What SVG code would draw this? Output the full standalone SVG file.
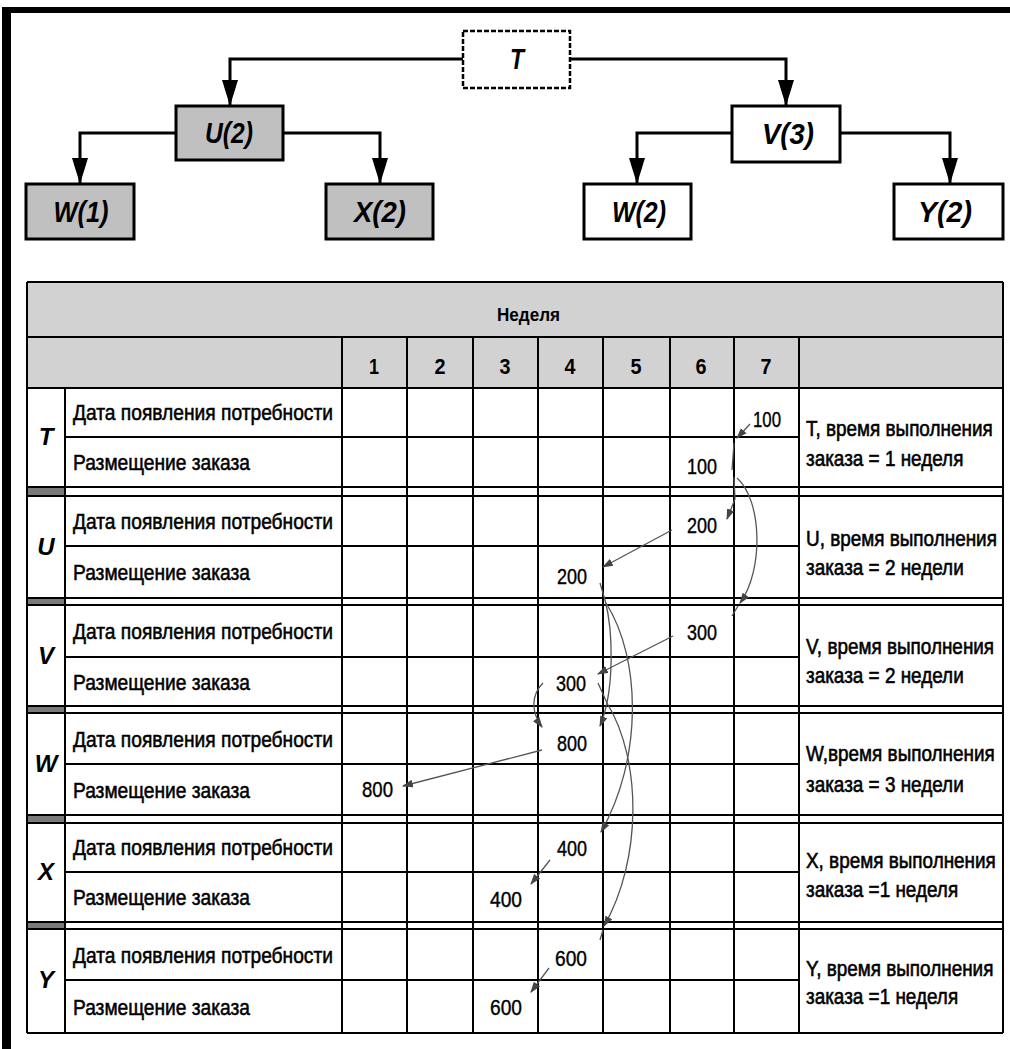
<svg xmlns="http://www.w3.org/2000/svg" width="1010" height="1049" viewBox="0 0 1010 1049">
<style>
.tl{stroke:#000;stroke-width:3;fill:none}
.bx{stroke:#000;stroke-width:3}
.gr{fill:#c0c0c0}
.wh{fill:#fff}
.nt{font-family:"Liberation Sans",Arial,sans-serif;font-weight:bold;font-style:italic;font-size:30px;text-anchor:middle;fill:#000}
.lt{font-family:"Liberation Sans",Arial,sans-serif;font-weight:bold;font-style:italic;font-size:24px;text-anchor:middle;fill:#000}
.lb{font-family:"Liberation Sans Narrow","Liberation Sans",Arial,sans-serif;font-size:22px;fill:#000;stroke:#000;stroke-width:0.55}
.nt2{font-family:"Liberation Sans Narrow","Liberation Sans",Arial,sans-serif;font-size:22px;fill:#000;stroke:#000;stroke-width:0.6}
.nm{font-family:"Liberation Sans Narrow","Liberation Sans",Arial,sans-serif;font-size:22px;fill:#000;stroke:#000;stroke-width:0.4}
.nb{font-family:"Liberation Sans Narrow","Liberation Sans",Arial,sans-serif;font-size:22px;font-weight:bold;fill:#000;text-anchor:middle}
.hd{font-family:"Liberation Sans Narrow","Liberation Sans",Arial,sans-serif;font-size:19px;font-weight:bold;fill:#000}
.gl{stroke:#000;stroke-width:2;fill:none}
.ar{stroke:#555;stroke-width:1.3;fill:none;marker-end:url(#ah)}
.ta{stroke:#555;stroke-width:1.3;fill:none}
</style>
<defs>
<marker id="big" viewBox="0 0 26 16" refX="26" refY="8" markerWidth="26" markerHeight="16" markerUnits="userSpaceOnUse" orient="auto"><path d="M0,0 L26,8 L0,16 z" fill="#000"/></marker>
<marker id="ah" viewBox="0 0 10 7" refX="9" refY="3.5" markerWidth="11" markerHeight="8" markerUnits="userSpaceOnUse" orient="auto"><path d="M0,0 L10,3.5 L0,7 z" fill="#444"/></marker>
</defs>
<rect width="1010" height="1049" fill="#fff"/>
<!-- outer frame -->
<rect x="2" y="7" width="1008" height="6" fill="#000"/>
<rect x="2" y="7" width="9" height="1042" fill="#000"/>

<!-- tree connectors -->
<g id="tree-connectors">
<path class="tl" d="M463,59 H230 V106" marker-end="url(#big)"/>
<path class="tl" d="M570,59 H786 V106" marker-end="url(#big)"/>
<path class="tl" d="M176,133 H80 V184" marker-end="url(#big)"/>
<path class="tl" d="M283,133 H380 V184" marker-end="url(#big)"/>
<path class="tl" d="M732,133 H637 V184" marker-end="url(#big)"/>
<path class="tl" d="M840,133 H950 V184" marker-end="url(#big)"/>
</g>

<g id="node-T">
<rect x="463" y="31" width="107" height="57" fill="#fff" stroke="#000" stroke-width="2.5" stroke-dasharray="5,2"/>
<text class="nt" x="517" y="69" textLength="14" lengthAdjust="spacingAndGlyphs">T</text>
</g>
<g id="node-U">
<rect class="bx gr" x="176" y="106" width="107" height="54"/>
<text class="nt" x="229" y="143" textLength="48" lengthAdjust="spacingAndGlyphs">U(2)</text>
</g>
<g id="node-V">
<rect class="bx wh" x="732" y="106" width="108" height="56"/>
<text class="nt" x="788" y="144" textLength="52" lengthAdjust="spacingAndGlyphs">V(3)</text>
</g>
<g id="node-W1">
<rect class="bx gr" x="26" y="184" width="108" height="55"/>
<text class="nt" x="81" y="222" textLength="55" lengthAdjust="spacingAndGlyphs">W(1)</text>
</g>
<g id="node-X2">
<rect class="bx gr" x="326" y="184" width="107" height="55"/>
<text class="nt" x="380" y="222" textLength="52" lengthAdjust="spacingAndGlyphs">X(2)</text>
</g>
<g id="node-W2">
<rect class="bx wh" x="584" y="184" width="107" height="55"/>
<text class="nt" x="639" y="222" textLength="54" lengthAdjust="spacingAndGlyphs">W(2)</text>
</g>
<g id="node-Y2">
<rect class="bx wh" x="894" y="184" width="109" height="55"/>
<text class="nt" x="945" y="222" textLength="54" lengthAdjust="spacingAndGlyphs">Y(2)</text>
</g>

<!-- table -->
<g id="table">
<rect x="27" y="282" width="976" height="106" fill="#d2d2d2"/>
<!-- gaps between groups -->
<rect x="27" y="488" width="38" height="7" fill="#7a7a7a"/>
<rect x="27" y="599" width="38" height="5" fill="#7a7a7a"/>
<rect x="27" y="707" width="38" height="5" fill="#7a7a7a"/>
<rect x="27" y="816" width="38" height="6" fill="#7a7a7a"/>
<rect x="27" y="923" width="38" height="5" fill="#7a7a7a"/>
<!-- horizontal lines -->
<path class="gl" d="M27,282 H1003 M27,337 H1003 M27,388 H1003
M65,437 H799 M27,487 H1003 M27,496 H1003
M65,546 H799 M27,598 H1003 M27,605 H1003
M65,657 H799 M27,706 H1003 M27,713 H1003
M65,764 H799 M27,815 H1003 M27,823 H1003
M65,872 H799 M27,922 H1003 M27,929 H1003
M65,980 H799 M27,1033 H1003"/>
<!-- vertical lines -->
<path class="gl" d="M27,282 V1033 M1003,282 V1033 M65,388 V1033
M342,337 V1033 M407,337 V1033 M473,337 V1033 M538,337 V1033
M603,337 V1033 M670,337 V1033 M734,337 V1033 M799,337 V1033"/>
<text class="hd" x="497" y="321" textLength="63" lengthAdjust="spacingAndGlyphs">Неделя</text>
<text class="nb" x="374" y="374" textLength="10" lengthAdjust="spacingAndGlyphs">1</text>
<text class="nb" x="440" y="374" textLength="11" lengthAdjust="spacingAndGlyphs">2</text>
<text class="nb" x="505" y="374" textLength="11" lengthAdjust="spacingAndGlyphs">3</text>
<text class="nb" x="570" y="374" textLength="11" lengthAdjust="spacingAndGlyphs">4</text>
<text class="nb" x="636" y="374" textLength="11" lengthAdjust="spacingAndGlyphs">5</text>
<text class="nb" x="701" y="374" textLength="11" lengthAdjust="spacingAndGlyphs">6</text>
<text class="nb" x="766" y="374" textLength="11" lengthAdjust="spacingAndGlyphs">7</text>
</g>

<g id="row-T">
<text class="lt" x="46" y="445">T</text>
<text class="lb" x="73" y="420" textLength="260" lengthAdjust="spacingAndGlyphs">Дата появления потребности</text>
<text class="lb" x="73" y="470" textLength="177" lengthAdjust="spacingAndGlyphs">Размещение заказа</text>
<text class="nm" x="753" y="427" textLength="28" lengthAdjust="spacingAndGlyphs">100</text>
<text class="nm" x="687" y="474" textLength="30" lengthAdjust="spacingAndGlyphs">100</text>
<text class="nt2" transform="translate(806,436) scale(0.86,1)">T, время выполнения</text>
<text class="nt2" transform="translate(806,466) scale(0.86,1)">заказа = 1 неделя</text>
</g>
<g id="row-U">
<text class="lt" x="46" y="555">U</text>
<text class="lb" x="73" y="529" textLength="260" lengthAdjust="spacingAndGlyphs">Дата появления потребности</text>
<text class="lb" x="73" y="580" textLength="177" lengthAdjust="spacingAndGlyphs">Размещение заказа</text>
<text class="nm" x="687" y="533" textLength="30" lengthAdjust="spacingAndGlyphs">200</text>
<text class="nm" x="557" y="584" textLength="30" lengthAdjust="spacingAndGlyphs">200</text>
<text class="nt2" transform="translate(806,546) scale(0.86,1)">U, время выполнения</text>
<text class="nt2" transform="translate(806,575) scale(0.86,1)">заказа = 2 недели</text>
</g>
<g id="row-V">
<text class="lt" x="46" y="664">V</text>
<text class="lb" x="73" y="639" textLength="260" lengthAdjust="spacingAndGlyphs">Дата появления потребности</text>
<text class="lb" x="73" y="690" textLength="177" lengthAdjust="spacingAndGlyphs">Размещение заказа</text>
<text class="nm" x="687" y="640" textLength="30" lengthAdjust="spacingAndGlyphs">300</text>
<text class="nm" x="556" y="691" textLength="30" lengthAdjust="spacingAndGlyphs">300</text>
<text class="nt2" transform="translate(806,654) scale(0.86,1)">V, время выполнения</text>
<text class="nt2" transform="translate(806,683) scale(0.86,1)">заказа = 2 недели</text>
</g>
<g id="row-W">
<text class="lt" x="46" y="772">W</text>
<text class="lb" x="73" y="747" textLength="260" lengthAdjust="spacingAndGlyphs">Дата появления потребности</text>
<text class="lb" x="73" y="798" textLength="177" lengthAdjust="spacingAndGlyphs">Размещение заказа</text>
<text class="nm" x="557" y="751" textLength="30" lengthAdjust="spacingAndGlyphs">800</text>
<text class="nm" x="362" y="797" textLength="31" lengthAdjust="spacingAndGlyphs">800</text>
<text class="nt2" transform="translate(806,761) scale(0.86,1)">W,время выполнения</text>
<text class="nt2" transform="translate(806,792) scale(0.86,1)">заказа = 3 недели</text>
</g>
<g id="row-X">
<text class="lt" x="46" y="880">X</text>
<text class="lb" x="73" y="855" textLength="260" lengthAdjust="spacingAndGlyphs">Дата появления потребности</text>
<text class="lb" x="73" y="905" textLength="177" lengthAdjust="spacingAndGlyphs">Размещение заказа</text>
<text class="nm" x="557" y="856" textLength="30" lengthAdjust="spacingAndGlyphs">400</text>
<text class="nm" x="490" y="907" textLength="32" lengthAdjust="spacingAndGlyphs">400</text>
<text class="nt2" transform="translate(806,868) scale(0.86,1)">X, время выполнения</text>
<text class="nt2" transform="translate(806,897) scale(0.86,1)">заказа =1 неделя</text>
</g>
<g id="row-Y">
<text class="lt" x="46" y="988">Y</text>
<text class="lb" x="73" y="963" textLength="260" lengthAdjust="spacingAndGlyphs">Дата появления потребности</text>
<text class="lb" x="73" y="1015" textLength="177" lengthAdjust="spacingAndGlyphs">Размещение заказа</text>
<text class="nm" x="555" y="966" textLength="32" lengthAdjust="spacingAndGlyphs">600</text>
<text class="nm" x="490" y="1015" textLength="32" lengthAdjust="spacingAndGlyphs">600</text>
<text class="nt2" transform="translate(806,976) scale(0.86,1)">Y, время выполнения</text>
<text class="nt2" transform="translate(806,1004) scale(0.86,1)">заказа =1 неделя</text>
</g>

<!-- table arrows -->
<g id="table-connectors">
<path class="ar" d="M750,424 L737,438"/>
<path class="ta" d="M734,443 L732,470"/>
<path class="ar" d="M734,477 L735,499 L727,519"/>
<path class="ar" d="M737,478 C762,500 764,570 740,603"/>
<path class="ta" d="M738,606 L732,616"/>
<path class="ar" d="M672,530 L603,567"/>
<path class="ar" d="M673,636 L598,674"/>
<path class="ar" d="M600,583 L605,600 C613,630 615,690 600,726"/>
<path class="ar" d="M606,603 C642,660 642,760 601,832"/>
<path class="ar" d="M598,683 L607,703 C642,760 642,860 604,926"/>
<path class="ta" d="M603,930 L600,940"/>
<path class="ar" d="M543,683 C531,695 531,712 542,727"/>
<path class="ar" d="M542,750 L403,786"/>
<path class="ar" d="M550,860 L531,884"/>
<path class="ar" d="M549,968 L531,992"/>
</g>
</svg>
